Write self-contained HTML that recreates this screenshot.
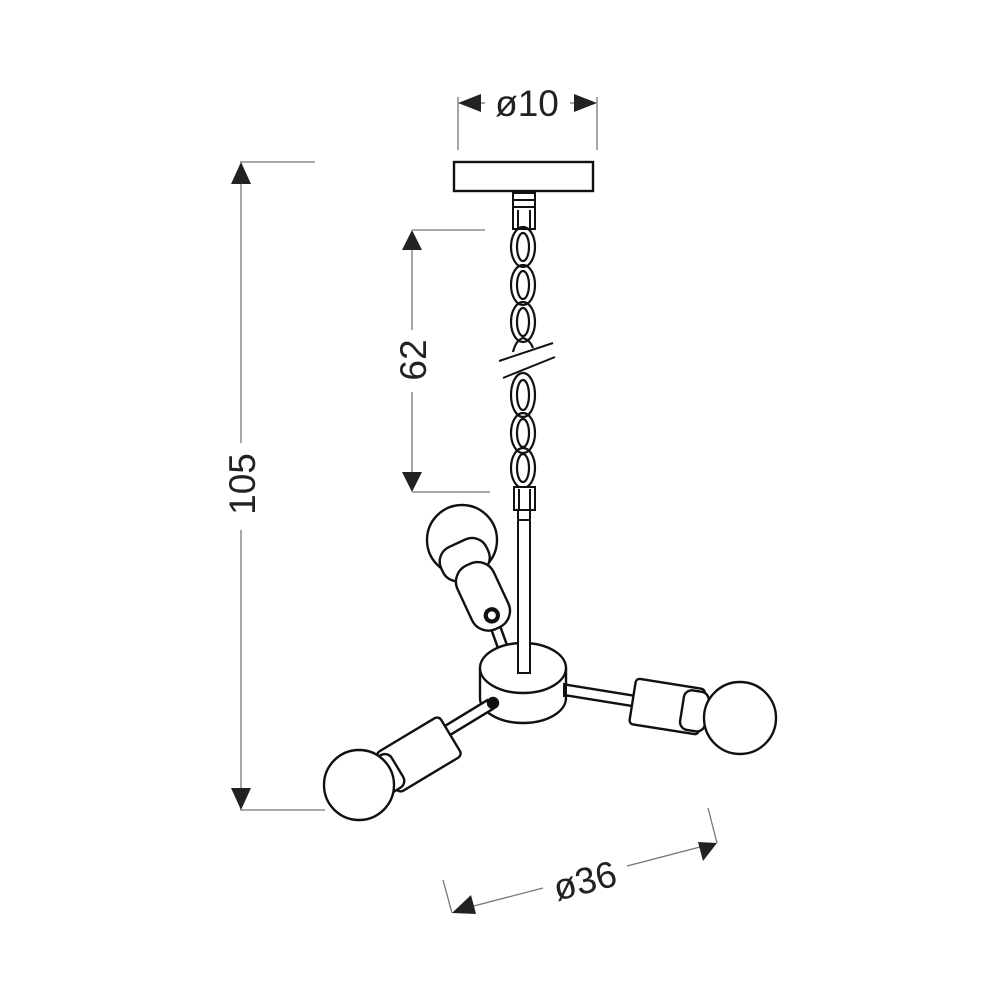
<!DOCTYPE html>
<html><head><meta charset="utf-8"><style>html,body{margin:0;padding:0;background:#fff}svg{display:block}</style></head>
<body>
<svg width="1000" height="1000" viewBox="0 0 1000 1000" xmlns="http://www.w3.org/2000/svg">
<rect width="1000" height="1000" fill="#fff"/>
<g font-family="Liberation Sans, sans-serif" font-size="37" fill="#222">
<g stroke="#777" stroke-width="1.3" fill="none">
<line x1="240" y1="162" x2="315" y2="162"/>
<line x1="240" y1="810" x2="325" y2="810"/>
<line x1="241" y1="180" x2="241" y2="443"/>
<line x1="241" y1="530" x2="241" y2="795"/>
<line x1="412" y1="230" x2="485" y2="230"/>
<line x1="412" y1="492" x2="490" y2="492"/>
<line x1="412" y1="245" x2="412" y2="330"/>
<line x1="412" y1="392" x2="412" y2="478"/>
<line x1="458" y1="97" x2="458" y2="150"/>
<line x1="597" y1="97" x2="597" y2="150"/>
<line x1="478" y1="103" x2="485" y2="103"/>
<line x1="570" y1="103" x2="578" y2="103"/>
<line x1="443" y1="880" x2="452" y2="913"/>
<line x1="708" y1="808" x2="717" y2="843"/>
<line x1="470" y1="907" x2="543" y2="888"/>
<line x1="627" y1="866" x2="700" y2="847"/>
</g>
<g fill="#222">
<polygon points="241,162 231,184 251,184"/>
<polygon points="241,810 231,788 251,788"/>
<polygon points="412,230 402,250 422,250"/>
<polygon points="412,492 402,472 422,472"/>
<polygon points="458,103 481,94 481,112"/>
<polygon points="597,103 574,94 574,112"/>
<polygon points="452,913 471,895 476,914"/>
<polygon points="717,843 698,842 703,861"/>
</g>
<text x="0" y="0" text-anchor="middle" transform="translate(255,484) rotate(-90)">105</text>
<text x="0" y="0" text-anchor="middle" transform="translate(426,360) rotate(-90)">62</text>
<text x="527" y="116" text-anchor="middle">ø10</text>
<text x="0" y="0" text-anchor="middle" transform="translate(588,893) rotate(-14.6)">ø36</text>
</g>

<g stroke="#111" stroke-width="2.4" fill="#fff">
<rect x="454" y="162" width="139" height="29"/>
<rect x="513" y="193" width="22" height="36" stroke-width="2"/>
<line x1="513" y1="200" x2="535" y2="200" stroke-width="2"/>
<line x1="513" y1="207" x2="535" y2="207" stroke-width="2"/>
<line x1="518" y1="210" x2="518" y2="229" stroke-width="2"/>
<line x1="530" y1="210" x2="530" y2="229" stroke-width="2"/>
<g fill="none" stroke-width="2.2">
<ellipse cx="523" cy="247" rx="12" ry="20"/><ellipse cx="523" cy="247" rx="6" ry="14"/>
<ellipse cx="523" cy="285" rx="12" ry="20"/><ellipse cx="523" cy="285" rx="6" ry="14"/>
<ellipse cx="523" cy="322" rx="12" ry="20"/><ellipse cx="523" cy="322" rx="6" ry="14"/>
<path d="M513 352 Q516 340 523 338 Q530 340 533 348"/>
<ellipse cx="523" cy="395" rx="12" ry="22"/><ellipse cx="523" cy="395" rx="6" ry="15"/>
<ellipse cx="523" cy="433" rx="12" ry="20"/><ellipse cx="523" cy="433" rx="6" ry="14"/>
<ellipse cx="523" cy="468" rx="12" ry="20"/><ellipse cx="523" cy="468" rx="6" ry="14"/>
</g>
<line x1="499" y1="361" x2="553" y2="343" stroke-width="2"/>
<line x1="503" y1="378" x2="555" y2="357" stroke-width="2"/>
<rect x="514" y="487" width="21" height="23" stroke-width="2"/>
<line x1="519" y1="489" x2="519" y2="510" stroke-width="2"/>
<line x1="530" y1="489" x2="530" y2="510" stroke-width="2"/>

<line x1="503" y1="648" x2="490" y2="612" stroke-width="12"/>
<line x1="503" y1="648" x2="490" y2="612" stroke="#fff" stroke-width="7"/>
<circle cx="462" cy="540" r="35"/>
<g transform="translate(480,590) rotate(-25)">
<rect x="-26" y="-52" width="50" height="36" rx="16"/>
<rect x="-20" y="-28" width="40" height="70" rx="18"/>
<circle cx="0" cy="28" r="7" fill="#111"/>
<circle cx="0" cy="28" r="4" fill="#fff" stroke="none"/>
</g>

<rect x="518" y="510" width="12" height="165" stroke-width="2"/>

<path d="M480 668 L480 698 A43 25 0 0 0 566 698 L566 668" />
<ellipse cx="523" cy="668" rx="43" ry="25"/>
<rect x="518" y="520" width="12" height="153" stroke-width="2"/>

<line x1="566" y1="690" x2="634" y2="701" stroke-width="13"/>
<line x1="566" y1="690" x2="634" y2="701" stroke="#fff" stroke-width="8"/>
<line x1="565" y1="683" x2="565" y2="697" stroke-width="4"/>
<g transform="translate(670,708) rotate(9)">
<rect x="-38" y="-24" width="70" height="46" rx="4"/>
<rect x="12" y="-21" width="25" height="40" rx="8"/>
</g>
<circle cx="740" cy="718" r="36"/>

<line x1="491" y1="704" x2="445" y2="732" stroke-width="13"/>
<line x1="491" y1="704" x2="445" y2="732" stroke="#fff" stroke-width="8"/>
<circle cx="493" cy="703" r="5" fill="#111"/>
<g transform="translate(418,755) rotate(-31)">
<rect x="-36" y="-23" width="74" height="46" rx="5"/>
<rect x="-50" y="-19" width="26" height="38" rx="8"/>
</g>
<circle cx="359" cy="785" r="35"/>
</g>
</svg>
</body></html>
